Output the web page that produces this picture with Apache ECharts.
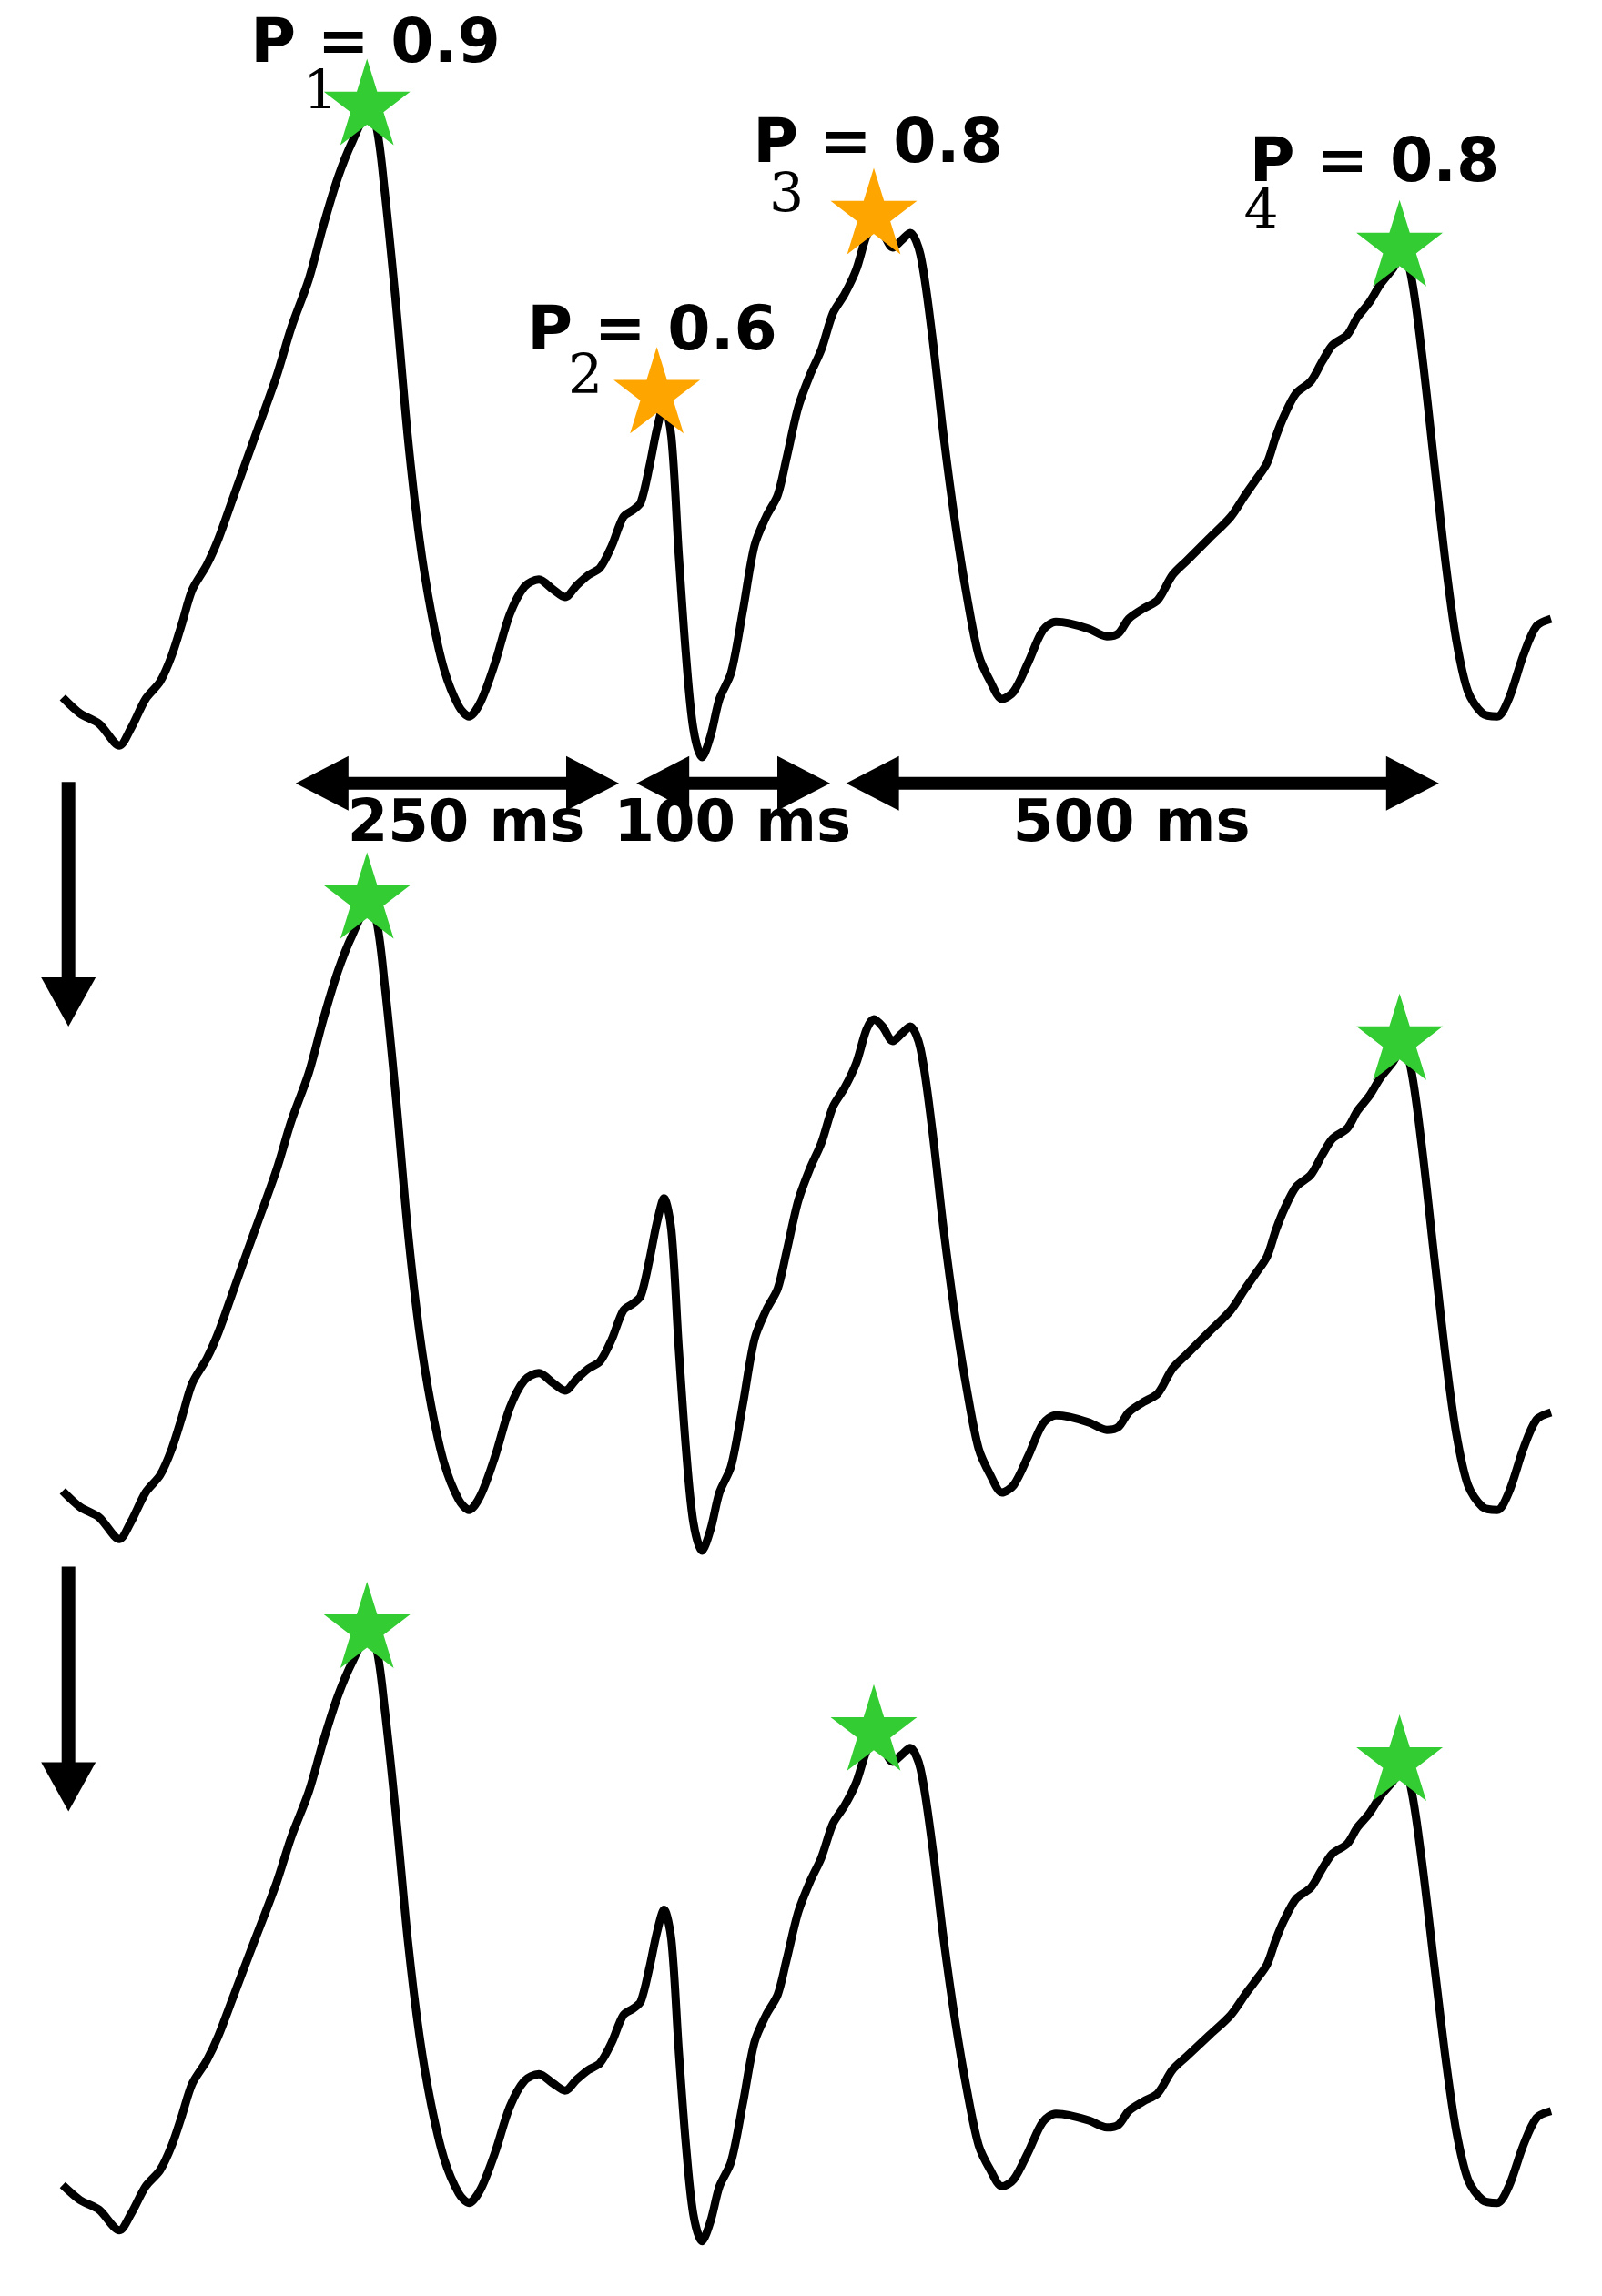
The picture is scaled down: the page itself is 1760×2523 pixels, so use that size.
<!DOCTYPE html>
<html><head><meta charset="utf-8">
<script src="https://cdn.jsdelivr.net/npm/echarts@6/dist/echarts.min.js"></script>
<style>html,body{margin:0;background:#fff}#c{width:1760px;height:2523px}</style>
</head><body><div id="c"></div>
<script>
// waveform (x: time units, y: depth from panel top, inverted axis)
var traceX = [43,55,68,82,90,100,110,118,125,132,142,150,160,175,190,200,212,222,232,242,252,258,264,272,280,288,296,305,315,322,330,340,350,360,370,380,388,396,404,412,420,428,435,440,446,451,456,461,466,471,476,482,488,494,502,510,518,526,534,540,548,556,564,572,580,588,595,600,606,613,619,625,632,640,648,656,664,672,680,688,696,706,716,725,734,748,760,768,775,785,795,805,815,830,845,855,862,870,876,882,890,900,908,915,925,932,940,948,956,962,968,976,985,993,1000,1008,1018,1028,1036,1046,1055,1065];
var traceY = [479,490,497,512,500,480,468,450,428,405,388,370,342,300,258,225,192,155,122,97,80,85,130,210,300,370,420,460,485,492,482,455,422,403,398,405,410,402,395,390,375,355,350,345,320,295,278,300,380,450,500,520,505,480,462,420,375,355,340,315,280,258,240,215,202,185,162,155,160,170,165,160,175,230,300,360,410,450,468,480,475,455,433,427,428,432,437,435,425,418,412,395,385,370,355,340,330,318,300,285,270,262,248,237,230,218,208,195,185,177,185,240,320,390,440,475,490,492,480,450,430,425];
// peaks: [x, y]
var peaks = [[252,70],[451,268],[600,145],[961,167]];
var peakLabels = ['P = 0.9','P = 0.6','P = 0.8','P = 0.8'];
var peakSubs = ['1','2','3','4'];
var labelPos = [[172,35,220,65],[362,233,402,260],[517,104,540,136],[858,117,866,147]];
// star colours per panel (null = no star)
var starsPanel = [
  ['#33cc33','#ffa500','#ffa500','#33cc33'],
  ['#33cc33',null,null,'#33cc33'],
  ['#33cc33',null,'#33cc33','#33cc33']
];
// interval arrows
var arrowFrom = [203,437,581];
var arrowTo = [425,570,988];
var arrowY = 538;
var arrowLabels = ['250 ms','100 ms','500 ms'];
var arrowLabelX = [320,503,777];

var S = 1.6;
var panelTop = [0,545,1050];
var starPath = 'path://M50,0 L61.8,36.2 L100,36.2 L69.1,58.8 L80.9,95.1 L50,72.6 L19.1,95.1 L30.9,58.8 L0,36.2 L38.2,36.2 Z';
var wave = traceX.map(function(x,i){return [x,traceY[i]];});

var grids=[],xAxes=[],yAxes=[],series=[];
panelTop.forEach(function(t,p){
  grids.push({left:0,top:t*S,width:1760,height:560*S});
  xAxes.push({type:'value',gridIndex:p,min:0,max:1100,show:false});
  yAxes.push({type:'value',gridIndex:p,min:0,max:560,inverse:true,show:false});
  series.push({type:'line',xAxisIndex:p,yAxisIndex:p,data:wave,smooth:0.3,showSymbol:false,
    lineStyle:{color:'#000',width:9},z:2});
  var pts=[];
  starsPanel[p].forEach(function(c,i){ if(c) pts.push({value:peaks[i],itemStyle:{color:c,opacity:1}}); });
  series.push({type:'scatter',xAxisIndex:p,yAxisIndex:p,data:pts,symbol:starPath,symbolSize:95,z:3});
});

var chart = echarts.init(document.getElementById('c'));
chart.setOption({animation:false,grid:grids,xAxis:xAxes,yAxis:yAxes,series:series});

var g=[];
peakLabels.forEach(function(s,i){
  var lp=labelPos[i];
  g.push({type:'text',left:lp[0]*S,top:lp[1]*S-40,z:10,style:{text:s,font:'bold 68px "DejaVu Sans"',fill:'#000'}});
  g.push({type:'text',x:lp[2]*S,y:lp[3]*S,z:10,style:{text:peakSubs[i],font:'60px "DejaVu Serif"',fill:'#000',align:'center',verticalAlign:'middle'}});
});
arrowFrom.forEach(function(a,i){
  var p1=chart.convertToPixel({gridIndex:0},[a,arrowY]);
  var p2=chart.convertToPixel({gridIndex:0},[arrowTo[i],arrowY]);
  var hl=58,hw=30;
  g.push({type:'line',shape:{x1:p1[0]+hl-4,y1:p1[1],x2:p2[0]-hl+4,y2:p2[1]},style:{stroke:'#000',lineWidth:14}});
  g.push({type:'polygon',shape:{points:[[p1[0],p1[1]],[p1[0]+hl,p1[1]-hw],[p1[0]+hl,p1[1]+hw]]},style:{fill:'#000'}});
  g.push({type:'polygon',shape:{points:[[p2[0],p2[1]],[p2[0]-hl,p2[1]-hw],[p2[0]-hl,p2[1]+hw]]},style:{fill:'#000'}});
  g.push({type:'text',x:arrowLabelX[i]*S,y:567*S,z:10,style:{text:arrowLabels[i],font:'bold 64px "DejaVu Sans"',fill:'#000',align:'center',verticalAlign:'middle'}});
});
[[537,705],[1076,1244]].forEach(function(d){
  var x=47*S,y1=d[0]*S,y2=d[1]*S,hl=54,hw=30;
  g.push({type:'line',shape:{x1:x,y1:y1,x2:x,y2:y2-hl+4},style:{stroke:'#000',lineWidth:15}});
  g.push({type:'polygon',shape:{points:[[x,y2],[x-hw,y2-hl],[x+hw,y2-hl]]},style:{fill:'#000'}});
});
chart.setOption({graphic:g});
</script></body></html>
